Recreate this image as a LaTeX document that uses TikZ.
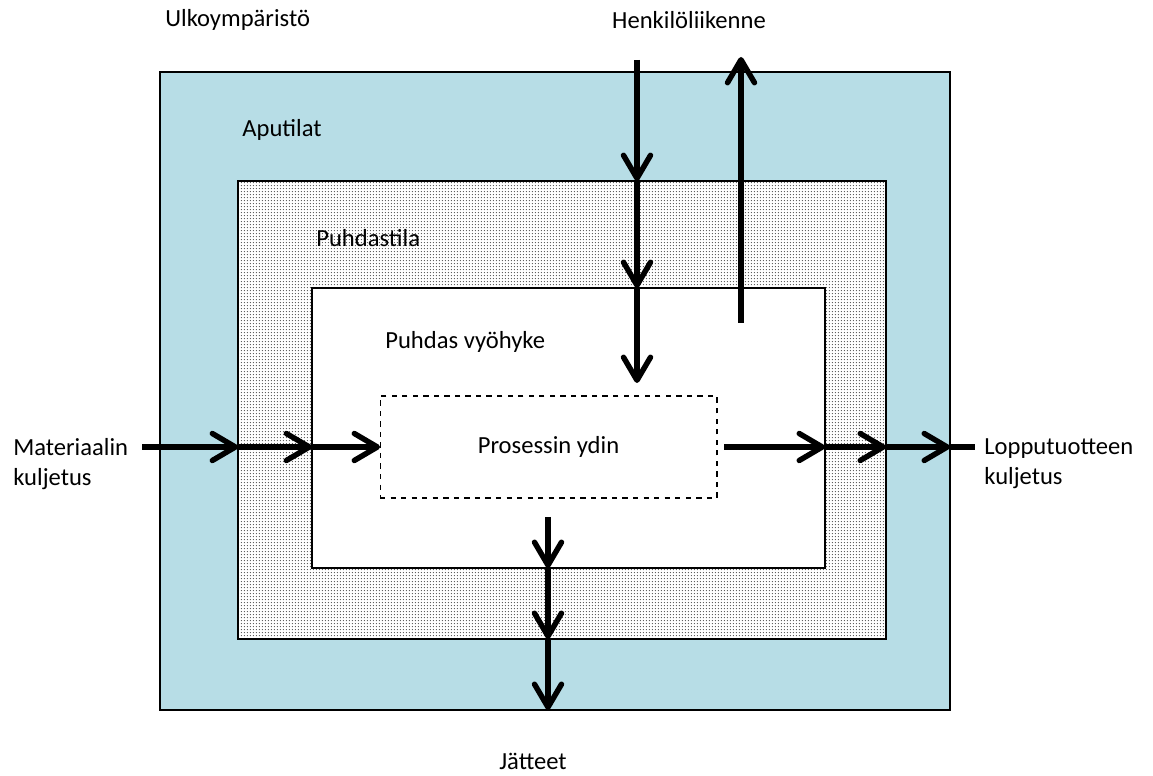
\documentclass[tikz,border=0pt]{standalone}
\usepackage{fontspec}
\setmainfont{Carlito}
\usetikzlibrary{arrows.meta,patterns.meta,positioning}
\definecolor{apuBlue}{RGB}{183,221,230}
\definecolor{dotGray}{RGB}{80,80,80}
\tikzdeclarepattern{
  name=finedots,
  type=uncolored,
  bounding box={(0pt,0pt) and (1.9pt,1.9pt)},
  tile size={(1.9pt,1.9pt)},
  code={\fill (0.95pt,0.95pt) circle (0.42pt);}
}

\begin{document}
\begin{tikzpicture}[x=0.02cm, y=-0.02cm,
    zone/.style={draw, line width=1.4pt, inner sep=0pt, outer sep=0pt},
    lbl/.style={font=\fontsize{14}{17}\selectfont, inner sep=0pt},
    flow/.style={line width=3.1pt,
      -{Straight Barb[length=4.6mm, width=5.4mm, line cap=round, line join=round]}},
    wire/.style={line width=3.1pt}
  ]
    \useasboundingbox (0,0) rectangle (1153,776);

    % Zones
    \node[zone, fill=apuBlue, minimum width=15.8cm, minimum height=12.76cm]
      (apu) at (555,391) {};
    \node[zone, preaction={fill=white}, pattern=finedots, pattern color=dotGray,
      minimum width=12.96cm, minimum height=9.16cm] (puhdastila) at (562,410) {};
    \node[zone, fill=white, minimum width=10.26cm, minimum height=5.6cm]
      (vyohyke) at (568.5,428) {};
    \node[draw, dashed, line width=0.6pt, inner sep=0pt, outer sep=0pt,
      minimum width=6.74cm, minimum height=2.04cm] (ydin) at (548.5,447)
      {\fontsize{14}{17}\selectfont Prosessin ydin};

    % Labels
    \node[lbl, anchor=west] (ulko) at (165,20) {Ulkoympäristö};
    \node[lbl] (henk) at (689,20) {Henkilöliikenne};
    \node[lbl, anchor=west] (apulbl) at (242,130) {Aputilat};
    \node[lbl, anchor=west] (puhdlbl) at (316,238) {Puhdastila};
    \node[lbl, anchor=west] (vyolbl) at (385,342) {Puhdas vyöhyke};
    \node[lbl, anchor=west, align=left] (mat) at (13,464)
      {Materiaalin\\kuljetus};
    \node[lbl, anchor=west, align=left] (loppu) at (984,464)
      {Lopputuotteen\\kuljetus};
    \node[lbl] (jatteet) at (533,761) {Jätteet};

    % Free ends
    \coordinate (matin) at (142,447);
    \coordinate (loppuin) at (724,447);
    \coordinate (loppuend) at (975,447);
    \coordinate (henkin) at (637,60);
    \coordinate (henkend) at (637,383);
    \coordinate (henkout) at (741,323);
    \coordinate (henkoutend) at (741,57);
    \coordinate (jatin) at (548,517);

    % Arrows
    \draw[flow] (matin) -- (puhdastila.west |- matin);
    \draw[flow] (puhdastila.west |- matin) -- (vyohyke.west |- matin);
    \draw[flow] (vyohyke.west |- matin) -- (ydin.west);

    \draw[flow] (loppuin) -- (vyohyke.east |- loppuin);
    \draw[flow] (vyohyke.east |- loppuin) -- (puhdastila.east |- loppuin);
    \draw[flow] (puhdastila.east |- loppuin) -- (apu.east |- loppuin);
    \draw[wire] (apu.east |- loppuin) -- (loppuend);

    \draw[flow] (henkin) -- (puhdastila.north -| henkin);
    \draw[flow] (puhdastila.north -| henkin) -- (vyohyke.north -| henkin);
    \draw[flow] (vyohyke.north -| henkin) -- (henkend);
    \draw[flow] (henkout) -- (henkoutend);

    \draw[flow] (jatin) -- (vyohyke.south -| jatin);
    \draw[flow] (vyohyke.south -| jatin) -- (puhdastila.south -| jatin);
    \draw[flow] (puhdastila.south -| jatin) -- (apu.south -| jatin);
\end{tikzpicture}
\end{document}
